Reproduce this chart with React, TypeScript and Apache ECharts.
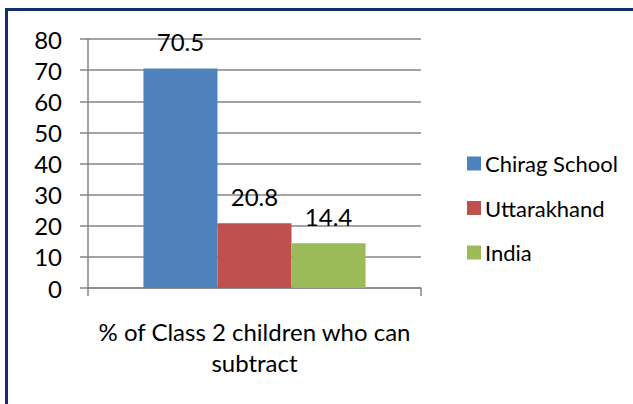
import React, { useEffect, useRef } from "react";
import * as echarts from "echarts";

const categories = ["% of Class 2 children who can\nsubtract"];
const seriesNames = ["Chirag School", "Uttarakhand", "India"];
const chiragValues = [70.5];
const uttarakhandValues = [20.8];
const indiaValues = [14.4];
const seriesColors = ["#4F81BD", "#C0504D", "#9BBB59"];
const yTicks = { min: 0, max: 80, interval: 10 };

const FONT = "Lato";
const GRID_COLOR = "#868686";

export default function App() {
  const ref = useRef<HTMLDivElement>(null);
  useEffect(() => {
    if (!ref.current) return;
    const chart = echarts.init(ref.current, null, { renderer: "svg" });
    const values = [chiragValues, uttarakhandValues, indiaValues];
    chart.setOption({
      animation: false,
      backgroundColor: "#ffffff",
      textStyle: { fontFamily: FONT },
      grid: { left: 88, right: 212, top: 39, bottom: 116 },
      graphic: [
        {
          type: "rect",
          shape: { x: 6.5, y: 9.5, width: 660, height: 420 },
          style: { fill: "none", stroke: "#13306A", lineWidth: 3 },
          silent: true,
        },
      ],
      legend: {
        orient: "vertical",
        left: 462,
        top: 147,
        itemWidth: 14,
        itemHeight: 14,
        itemGap: 21.5,
        icon: "rect",
        data: seriesNames,
        textStyle: {
          fontFamily: FONT,
          fontSize: 22,
          color: "#000",
          lineHeight: 23,
          padding: [0, 0, 0, -1],
        },
      },
      xAxis: {
        type: "category",
        data: categories,
        axisLine: { show: true, lineStyle: { color: GRID_COLOR, width: 1.5 } },
        axisTick: { show: true, length: 8, lineStyle: { color: GRID_COLOR, width: 1.5 } },
        axisLabel: {
          fontFamily: FONT,
          fontSize: 24,
          color: "#000",
          lineHeight: 31,
          margin: 28,
        },
      },
      yAxis: {
        type: "value",
        min: yTicks.min,
        max: yTicks.max,
        interval: yTicks.interval,
        axisLine: { show: true, lineStyle: { color: GRID_COLOR, width: 1.5 } },
        axisTick: { show: true, length: 8, lineStyle: { color: GRID_COLOR, width: 1.5 } },
        splitLine: { show: true, lineStyle: { color: GRID_COLOR, width: 1.5 } },
        axisLabel: { fontFamily: FONT, fontSize: 24, color: "#000", margin: 26 },
      },
      series: seriesNames.map((name, i) => ({
        name,
        type: "bar",
        data: values[i],
        barGap: "0%",
        barCategoryGap: "33.3%",
        itemStyle: { color: seriesColors[i] },
        label: {
          show: true,
          position: "top",
          distance: 15,
          fontFamily: FONT,
          fontSize: 24,
          color: "#000",
        },
      })),
    });
    return () => chart.dispose();
  }, []);
  return (
    <div
      ref={ref}
      style={{ position: "fixed", left: 0, top: 0, width: 633, height: 404 }}
    />
  );
}
